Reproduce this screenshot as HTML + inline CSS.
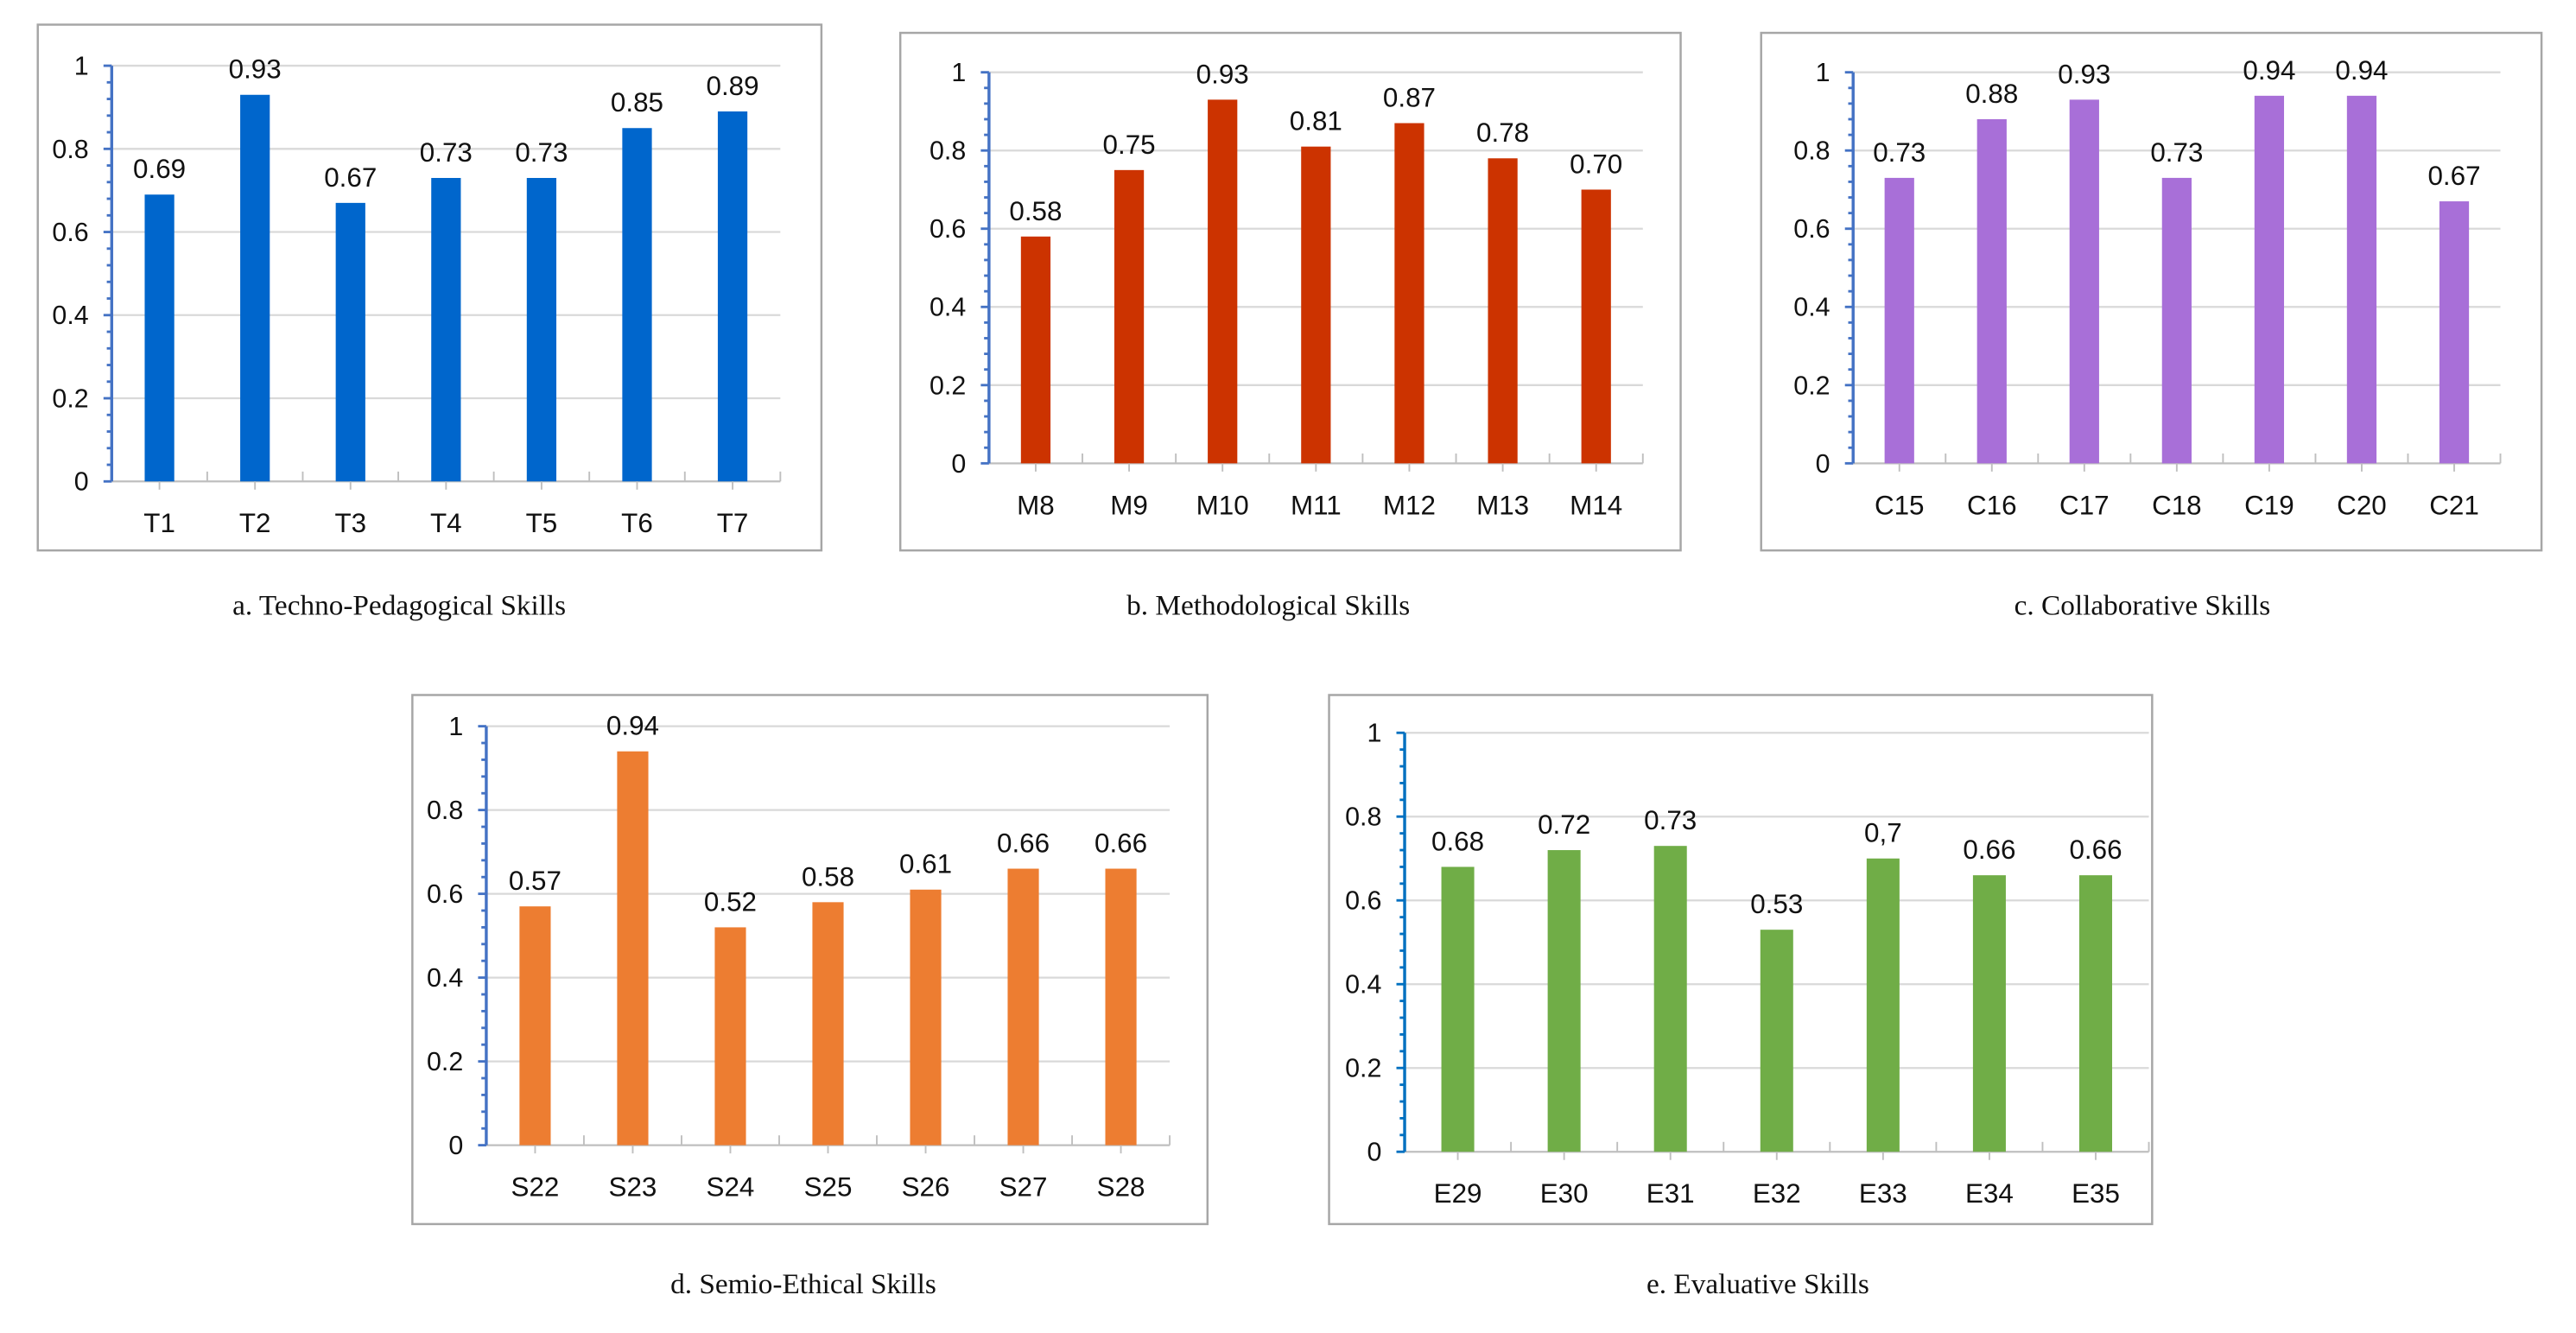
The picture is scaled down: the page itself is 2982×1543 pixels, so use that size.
<!DOCTYPE html>
<html><head><meta charset="utf-8"><style>
html,body{margin:0;padding:0;background:#fff;}
svg{display:block;}
</style></head><body>
<svg id="fig" width="2982" height="1543" viewBox="0 0 1568 811.3" preserveAspectRatio="none" xmlns="http://www.w3.org/2000/svg"></svg>
<script>
const catsA=["T1","T2","T3","T4","T5","T6","T7"];
const valsA=[0.69,0.93,0.67,0.73,0.73,0.85,0.89];
const labsA=["0.69","0.93","0.67","0.73","0.73","0.85","0.89"];
const catsB=["M8","M9","M10","M11","M12","M13","M14"];
const valsB=[0.58,0.75,0.93,0.81,0.87,0.78,0.70];
const labsB=["0.58","0.75","0.93","0.81","0.87","0.78","0.70"];
const catsC=["C15","C16","C17","C18","C19","C20","C21"];
const valsC=[0.73,0.88,0.93,0.73,0.94,0.94,0.67];
const labsC=["0.73","0.88","0.93","0.73","0.94","0.94","0.67"];
const catsD=["S22","S23","S24","S25","S26","S27","S28"];
const valsD=[0.57,0.94,0.52,0.58,0.61,0.66,0.66];
const labsD=["0.57","0.94","0.52","0.58","0.61","0.66","0.66"];
const catsE=["E29","E30","E31","E32","E33","E34","E35"];
const valsE=[0.68,0.72,0.73,0.53,0.70,0.66,0.66];
const labsE=["0.68","0.72","0.73","0.53","0,7","0.66","0.66"];
const yTicks=[0,0.2,0.4,0.6,0.8,1];
const yTickLabels=["0","0.2","0.4","0.6","0.8","1"];

const NS="http://www.w3.org/2000/svg";
const svg=document.getElementById('fig');
function mk(tag,attrs,parent){const e=document.createElementNS(NS,tag);for(const k in attrs)e.setAttribute(k,attrs[k]);parent.appendChild(e);return e;}

function chart(cfg,cats,vals,labs){
  const g=mk('g',{},svg);
  
  
  const box=mk('rect',{x:cfg.bx,y:cfg.by,width:cfg.bw,height:cfg.bh,fill:'#fff',stroke:'#a6a6a6','stroke-width':1.3},g);
  
  
  const y=v=>cfg.y0+(cfg.y1-cfg.y0)*v;
  const step=(cfg.xr-cfg.xl)/cats.length;
  const x=i=>cfg.xl+step*(i+0.5);
  yTicks.forEach((t,i)=>{
    if(t>0){const gl=mk('line',{x1:cfg.xl,x2:cfg.xr,y1:y(t),y2:y(t),stroke:'#d9d9d9','stroke-width':1.2},g);
      
      }
    const tl=mk('text',{x:cfg.xl-14,y:y(t)+5.5,'text-anchor':'end','font-size':16,'font-family':'Liberation Sans, sans-serif',fill:'#111'},g);
    tl.textContent=yTickLabels[i];
    
    
  });
  const xa=mk('line',{x1:cfg.xl,x2:cfg.xr,y1:cfg.y0,y2:cfg.y0,stroke:'#bfbfbf','stroke-width':1.2},g);
  
  
  for(let i=0;i<=cats.length;i++){
    const tk=mk('line',{x1:cfg.xl+step*i,x2:cfg.xl+step*i,y1:cfg.y0-6,y2:cfg.y0,stroke:'#bfbfbf','stroke-width':1},g);
    
    
  }
  cats.forEach((c,i)=>{
    const b=mk('rect',{x:x(i)-cfg.barw/2,y:y(vals[i]),width:cfg.barw,height:cfg.y0-y(vals[i]),fill:cfg.color},g);
    
    
    const mt=mk('line',{x1:x(i),x2:x(i),y1:cfg.y0,y2:cfg.y0+5,stroke:'#bfbfbf','stroke-width':1},g);
    
    
    const vl=mk('text',{x:x(i),y:y(vals[i])-10,'text-anchor':'middle','font-size':16.5,'font-family':'Liberation Sans, sans-serif',fill:'#111'},g);
    vl.textContent=labs[i];
    
    
    const cl=mk('text',{x:x(i),y:cfg.y0+31,'text-anchor':'middle','font-size':16.5,'font-family':'Liberation Sans, sans-serif',fill:'#111'},g);
    cl.textContent=c;
    
    
  });
  const ya=mk('line',{x1:cfg.xl,x2:cfg.xl,y1:y(1),y2:cfg.y0,stroke:cfg.axis,'stroke-width':1.8},g);
  
  
  for(let k=0;k<=25;k++){
    const v=k*0.04, major=(k%5===0);
    const t=mk('line',{x1:cfg.xl-(major?5:3),x2:cfg.xl,y1:y(v),y2:y(v),stroke:cfg.axis,'stroke-width':1.5},g);
    
    
  }
  const cap=mk('text',{x:cfg.capx,y:cfg.capy,'text-anchor':'middle','font-size':17.5,'font-family':'Liberation Serif, serif',fill:'#111'},g);
  cap.textContent=cfg.caption;
  
  
}

chart({name:'chart-techno-pedagogical',bx:23,by:15,bw:477,bh:320,xl:68,xr:475,y0:293,y1:40,barw:18,color:'#0066CC',axis:'#4472C4',capx:243,capy:374,caption:'a. Techno-Pedagogical Skills'},catsA,valsA,labsA);
chart({name:'chart-methodological',bx:548,by:20,bw:475,bh:315,xl:602,xr:1000,y0:282,y1:44,barw:18,color:'#CC3300',axis:'#4472C4',capx:772,capy:374,caption:'b. Methodological Skills'},catsB,valsB,labsB);
chart({name:'chart-collaborative',bx:1072,by:20,bw:475,bh:315,xl:1128,xr:1522,y0:282,y1:44,barw:18,color:'#A86FD8',axis:'#4472C4',capx:1304,capy:374,caption:'c. Collaborative Skills'},catsC,valsC,labsC);
chart({name:'chart-semio-ethical',bx:251,by:423,bw:484,bh:322,xl:296,xr:712,y0:697,y1:442,barw:19,color:'#ED7D31',axis:'#4472C4',capx:489,capy:787,caption:'d. Semio-Ethical Skills'},catsD,valsD,labsD);
chart({name:'chart-evaluative',bx:809,by:423,bw:501,bh:322,xl:855,xr:1308,y0:701,y1:446,barw:20,color:'#70AD47',axis:'#0070C0',capx:1070,capy:787,caption:'e. Evaluative Skills'},catsE,valsE,labsE);
</script>
</body></html>
